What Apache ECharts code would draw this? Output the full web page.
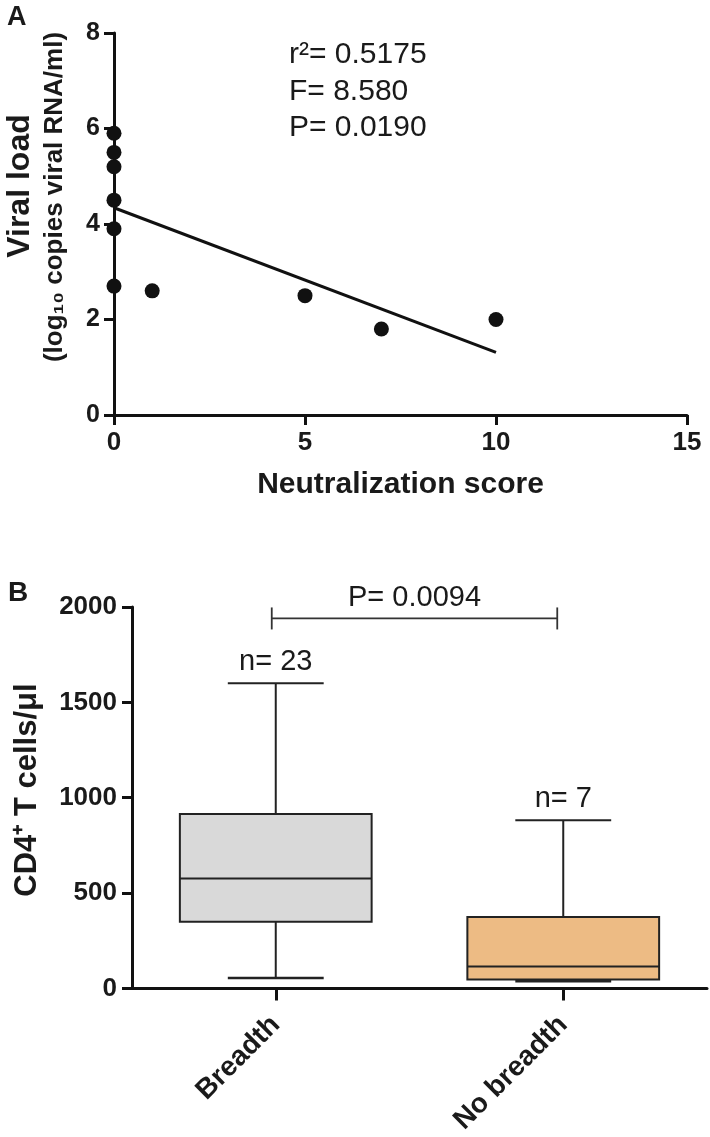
<!DOCTYPE html>
<html><head><meta charset="utf-8">
<script src="https://cdn.jsdelivr.net/npm/echarts@6/dist/echarts.min.js"></script>
<style>html,body{margin:0;padding:0;background:#fff}#c{width:710px;height:1137px}</style>
</head><body><div id="c"></div>
<script>
// Panel A data
const neutScore = [0, 0, 0, 0, 0, 0, 1, 5, 7, 10];
const viralLoad = [5.9, 5.5, 5.2, 4.5, 3.9, 2.7, 2.6, 2.5, 1.8, 2.0];
const fitX = [0, 10];
const fitY = [4.34, 1.31];
const statsLines = ['r\u00b2= 0.5175', 'F= 8.580', 'P= 0.0190'];
// Panel B data
const groups = ['Breadth', 'No breadth'];
const boxMin = [55, 38];
const boxQ1 = [350, 47];
const boxMedian = [577, 115];
const boxQ3 = [915, 375];
const boxMax = [1600, 882];
const groupN = ['n= 23', 'n= 7'];
const boxColors = ['#d9d9d9', '#edbb84'];
const pValueB = 'P= 0.0094';
const bracketLevel = 1940;

const FONT = "'Liberation Sans', Arial, Helvetica, sans-serif";
const INK = '#111';
const TXT = '#1a1a1a';

const chart = echarts.init(document.getElementById('c'), null, {renderer: 'canvas'});

const axisLineStyle = {show: true, lineStyle: {color: INK, width: 3}};
const axisTickStyle = {show: true, length: 10, lineStyle: {color: INK, width: 3}};
const plain = v => String(v);
const boldLabel = (size, margin) => ({fontSize: size, fontWeight: 'bold', color: TXT, fontFamily: FONT, margin: margin});

const option = {
  backgroundColor: '#ffffff',
  animation: false,
  grid: [
    {left: 114, right: 23, top: 33, bottom: 722},
    {left: 132, right: 3, top: 607, bottom: 148}
  ],
  xAxis: [
    {
      gridIndex: 0, type: 'value', min: 0, max: 15, interval: 5,
      axisLine: axisLineStyle, axisTick: axisTickStyle, splitLine: {show: false},
      axisLabel: Object.assign(boldLabel(26, 15), {formatter: plain}),
      name: 'Neutralization score', nameLocation: 'middle', nameGap: 55,
      nameTextStyle: {fontSize: 30, fontWeight: 'bold', color: TXT, fontFamily: FONT}
    },
    {
      gridIndex: 1, type: 'category', data: groups, boundaryGap: true,
      axisLine: axisLineStyle,
      axisTick: {show: true, alignWithLabel: true, length: 12, lineStyle: {color: INK, width: 3}},
      axisLabel: Object.assign(boldLabel(28, 32), {rotate: 45, interval: 0}),
      splitLine: {show: false}
    }
  ],
  yAxis: [
    {
      gridIndex: 0, type: 'value', min: 0, max: 8, interval: 2,
      axisLine: axisLineStyle, axisTick: axisTickStyle, splitLine: {show: false},
      axisLabel: Object.assign(boldLabel(25, 14), {formatter: plain})
    },
    {
      gridIndex: 1, type: 'value', min: 0, max: 2000, interval: 500,
      axisLine: axisLineStyle, axisTick: axisTickStyle, splitLine: {show: false},
      axisLabel: Object.assign(boldLabel(26, 15), {formatter: plain})
    }
  ],
  series: [
    {
      type: 'scatter', xAxisIndex: 0, yAxisIndex: 0,
      data: neutScore.map((x, i) => [x, viralLoad[i]]),
      symbol: 'circle', symbolSize: 15,
      itemStyle: {color: INK, opacity: 1}, z: 3
    },
    {
      type: 'line', xAxisIndex: 0, yAxisIndex: 0,
      data: fitX.map((x, i) => [x, fitY[i]]),
      symbol: 'none', lineStyle: {color: INK, width: 3}, z: 2
    },
    {
      type: 'custom', xAxisIndex: 1, yAxisIndex: 1,
      data: groups.map((g, i) => [i, boxMin[i], boxQ1[i], boxMedian[i], boxQ3[i], boxMax[i]]),
      renderItem: function (params, api) {
        const i = api.value(0);
        const c = v => api.coord([i, v]);
        const band = api.size([1, 0])[0];
        const bw = band * 0.667;
        const cw = bw / 2;
        const pMin = c(api.value(1)), pQ1 = c(api.value(2)), pMed = c(api.value(3)),
              pQ3 = c(api.value(4)), pMax = c(api.value(5));
        const cx = pMed[0];
        const thin = {stroke: '#222', lineWidth: 2};
        return {
          type: 'group',
          children: [
            {type: 'line', shape: {x1: cx, y1: pQ3[1], x2: cx, y2: pMax[1]}, style: thin},
            {type: 'line', shape: {x1: cx, y1: pQ1[1], x2: cx, y2: pMin[1]}, style: thin},
            {type: 'rect', shape: {x: cx - bw / 2, y: pQ3[1], width: bw, height: pQ1[1] - pQ3[1]},
             style: {fill: boxColors[i], stroke: '#222', lineWidth: 2}},
            {type: 'line', shape: {x1: cx - bw / 2, y1: pMed[1], x2: cx + bw / 2, y2: pMed[1]}, style: thin},
            {type: 'line', shape: {x1: cx - cw / 2, y1: pMax[1], x2: cx + cw / 2, y2: pMax[1]}, style: thin},
            {type: 'line', shape: {x1: cx - cw / 2, y1: pMin[1], x2: cx + cw / 2, y2: pMin[1]}, style: {stroke: '#222', lineWidth: 2.5}},
            {type: 'text', x: cx, y: pMax[1] - 7,
             style: {text: groupN[i], fontSize: 29, fill: TXT, fontFamily: FONT, align: 'center', verticalAlign: 'bottom'}}
          ]
        };
      }
    },
    {
      type: 'custom', xAxisIndex: 1, yAxisIndex: 1,
      data: [[0, 1, bracketLevel]],
      renderItem: function (params, api) {
        const p0 = api.coord([api.value(0), api.value(2)]);
        const p1 = api.coord([api.value(1), api.value(2)]);
        const s = {stroke: '#333', lineWidth: 1.8};
        return {
          type: 'group',
          children: [
            {type: 'line', shape: {x1: p0[0] - 4, y1: p0[1], x2: p1[0] - 6, y2: p1[1]}, style: s},
            {type: 'line', shape: {x1: p0[0] - 4, y1: p0[1] - 11, x2: p0[0] - 4, y2: p0[1] + 11}, style: s},
            {type: 'line', shape: {x1: p1[0] - 6, y1: p1[1] - 11, x2: p1[0] - 6, y2: p1[1] + 11}, style: s},
            {type: 'text', x: (p0[0] + p1[0]) / 2 - 5, y: p0[1] - 6,
             style: {text: pValueB, fontSize: 29, fill: TXT, fontFamily: FONT, align: 'center', verticalAlign: 'bottom'}}
          ]
        };
      }
    }
  ],
  graphic: [
    {type: 'text', left: 7, top: 4, style: {text: 'A', fontSize: 27, fontWeight: 'bold', fill: TXT, fontFamily: FONT}},
    {type: 'text', left: 8, top: 579, style: {text: 'B', fontSize: 28, fontWeight: 'bold', fill: TXT, fontFamily: FONT}},
    {type: 'text', x: 20, y: 186, rotation: Math.PI / 2,
     style: {text: 'Viral load', fontSize: 32, fontWeight: 'bold', fill: TXT, fontFamily: FONT, align: 'center', verticalAlign: 'middle'}},
    {type: 'text', x: 55, y: 197, rotation: Math.PI / 2,
     style: {text: '(log\u2081\u2080 copies viral RNA/ml)', fontSize: 26, fontWeight: 'bold', fill: TXT, fontFamily: FONT, align: 'center', verticalAlign: 'middle'}},
    {type: 'text', x: 27, y: 790, rotation: Math.PI / 2,
     style: {text: 'CD4\u207a T cells/\u03bcl', fontSize: 31, fontWeight: 'bold', fill: TXT, fontFamily: FONT, align: 'center', verticalAlign: 'middle'}},
    {type: 'text', x: 289, y: 55, style: {text: statsLines[0], fontSize: 30, fill: TXT, fontFamily: FONT, verticalAlign: 'middle'}},
    {type: 'text', x: 289, y: 92, style: {text: statsLines[1], fontSize: 30, fill: TXT, fontFamily: FONT, verticalAlign: 'middle'}},
    {type: 'text', x: 289, y: 128, style: {text: statsLines[2], fontSize: 30, fill: TXT, fontFamily: FONT, verticalAlign: 'middle'}}
  ]
};
chart.setOption(option);
</script>
</body></html>
